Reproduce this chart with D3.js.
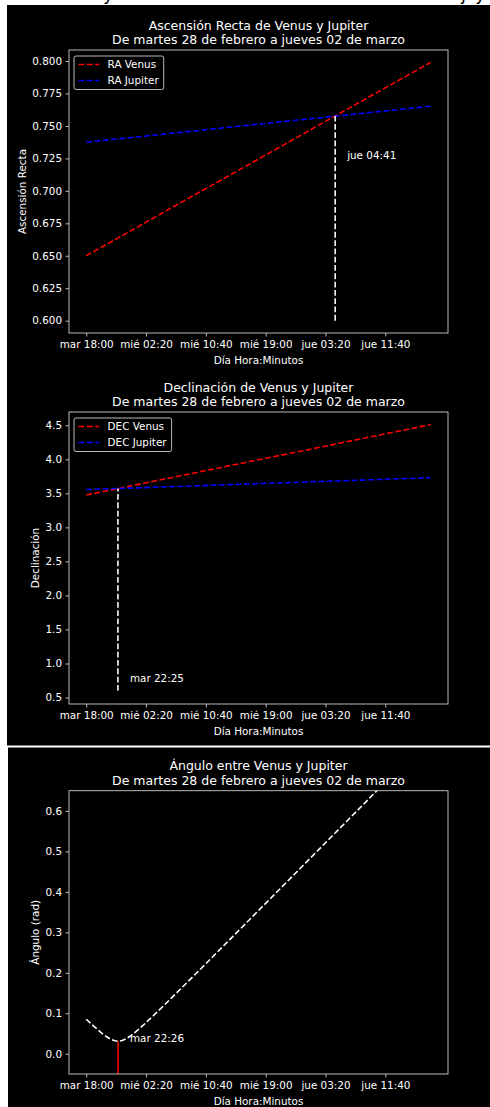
<!DOCTYPE html>
<html lang="es">
<head>
<meta charset="UTF-8">
<title>Venus y Jupiter</title>
<script src="https://d3js.org/d3.v7.min.js"></script>
<style>
  body { margin: 0; background: #fff; }
  svg { display: block; font-family: "DejaVu Sans", sans-serif; }
  .tick text { font-size: 10.4px; fill: #fff; }
  .tick line { stroke: #ccc; stroke-width: 0.9; }
</style>
</head>
<body>
<div id="chart"></div>
<script>
// tiempo en minutos desde mar 28 feb 18:00
const tiempo = [0, 240, 480, 720, 960, 1200, 1440, 1680, 1920, 2160, 2400, 2640, 2880];
const raVenus = [0.6500, 0.6624, 0.6748, 0.6873, 0.6997, 0.7121, 0.7245, 0.7369, 0.7494, 0.7618, 0.7742, 0.7866, 0.7990];
const raJupiter = [0.7375, 0.7398, 0.7421, 0.7444, 0.7467, 0.7490, 0.7514, 0.7537, 0.7560, 0.7583, 0.7606, 0.7629, 0.7652];
const decVenus = [3.475, 3.561, 3.648, 3.734, 3.820, 3.907, 3.993, 4.079, 4.165, 4.252, 4.338, 4.424, 4.510];
const decJupiter = [3.555, 3.570, 3.584, 3.599, 3.613, 3.628, 3.643, 3.657, 3.672, 3.686, 3.701, 3.715, 3.730];

const tiempoAng = [0, 60, 120, 150, 180, 210, 240, 266, 300, 330, 360, 390, 420, 480, 600, 720, 960, 1200, 1440, 1680, 1920, 2160, 2400, 2640, 2880];
const angulo = [0.0854, 0.0689, 0.0535, 0.0465, 0.0402, 0.0351, 0.0319, 0.0310, 0.0327, 0.0366, 0.0420, 0.0486, 0.0558, 0.0715, 0.1051, 0.1399, 0.2107, 0.2821, 0.3538, 0.4255, 0.4974, 0.5692, 0.6411, 0.7131, 0.7850];

const xTicks = [0, 500, 1000, 1500, 2000, 2500];
const xTickLabels = ["mar 18:00", "mié 02:20", "mié 10:40", "mié 19:00", "jue 03:20", "jue 11:40"];

const raTicks = [0.600, 0.625, 0.650, 0.675, 0.700, 0.725, 0.750, 0.775, 0.800];
const decTicks = [0.5, 1.0, 1.5, 2.0, 2.5, 3.0, 3.5, 4.0, 4.5];
const angTicks = [0.0, 0.1, 0.2, 0.3, 0.4, 0.5, 0.6];

// cruces / minimo
const cruceRA = { t: 2081, v: 0.7577, label: "jue 04:41", lt: 2181, lv: 0.7248 };
const cruceDEC = { t: 265, v: 3.570, label: "mar 22:25", lt: 365, lv: 0.73 };
const minAng = { t: 266, v: 0.0310, label: "mar 22:26", lt: 366, lv: 0.0303 };

const subtitulo = "De martes 28 de febrero a jueves 02 de marzo";

const W = 490, H = 1107;
const left = 69, right = 448;

const svg = d3.select("#chart").append("svg")
    .attr("width", W).attr("height", H);

svg.append("rect").attr("width", W).attr("height", H).attr("fill", "#fff");

// restos del encabezado recortado (arriba de la figura)
svg.append("g").attr("font-size", 18).attr("fill", "#000")
    .selectAll("text").data([[103, "y"], [461, "j"], [475, "y"]])
    .join("text").attr("x", d => d[0]).attr("y", 0).text(d => d[1]);

svg.append("rect").attr("x", 7).attr("y", 5).attr("width", W - 7).attr("height", 740.5).attr("fill", "#000");
svg.append("rect").attr("x", 8).attr("y", 747.5).attr("width", W - 8).attr("height", H - 747.5).attr("fill", "#000");

const x = d3.scaleLinear().domain([-144, 3024]).range([left, right]);
const dash = "5.8,2.5";

function panel(cfg, idx) {
    const g = svg.append("g");
    const y = d3.scaleLinear().domain(cfg.yDomain).range([cfg.bottom, cfg.top]);

    const clipId = "clip" + idx;
    g.append("clipPath").attr("id", clipId).append("rect")
        .attr("x", left).attr("y", cfg.top)
        .attr("width", right - left).attr("height", cfg.bottom - cfg.top);

    // titulo
    const tt = g.append("text").attr("x", (left + right) / 2)
        .attr("text-anchor", "middle").attr("fill", "#fff").attr("font-size", 12.5);
    tt.append("tspan").attr("x", (left + right) / 2).attr("y", cfg.top - 20.5).text(cfg.title);
    tt.append("tspan").attr("x", (left + right) / 2).attr("y", cfg.top - 6).text(subtitulo);

    // ejes
    const ax = g.append("g").attr("transform", `translate(0,${cfg.bottom})`)
        .call(d3.axisBottom(x).tickValues(xTicks).tickFormat((d, i) => xTickLabels[i])
            .tickSize(3.5).tickPadding(3.5))
        .attr("font-family", null);
    ax.select(".domain").remove();
    ax.selectAll(".tick text").attr("dy", "0.76em");

    const ay = g.append("g").attr("transform", `translate(${left},0)`)
        .call(d3.axisLeft(y).tickValues(cfg.yTicks).tickFormat(d3.format(cfg.fmt))
            .tickSize(3.5).tickPadding(3.5))
        .attr("font-family", null);
    ay.select(".domain").remove();

    g.append("text").attr("x", (left + right) / 2).attr("y", cfg.bottom + 30.5)
        .attr("text-anchor", "middle").attr("fill", "#fff").attr("font-size", 10.4)
        .text("Día Hora:Minutos");

    g.append("text").attr("transform", `translate(${cfg.ylabelX},${(cfg.top + cfg.bottom) / 2}) rotate(-90)`)
        .attr("text-anchor", "middle").attr("fill", "#fff").attr("font-size", 10.4)
        .text(cfg.ylabel);

    const plot = g.append("g").attr("clip-path", `url(#${clipId})`);
    return { g, y, plot };
}

function serie(p, ts, vs, color, dashed) {
    const line = d3.line().x(d => x(d[0])).y(d => p.y(d[1]));
    p.plot.append("path").datum(ts.map((t, i) => [t, vs[i]]))
        .attr("d", line).attr("fill", "none").attr("stroke", color)
        .attr("stroke-width", 1.56).attr("stroke-dasharray", dashed ? dash : null);
}

function legend(p, top, items) {
    const lg = p.g.append("g");
    const box = lg.append("rect").attr("x", 74).attr("y", top + 6)
        .attr("height", 33.5).attr("rx", 2)
        .attr("fill", "#000").attr("fill-opacity", 0.8)
        .attr("stroke", "#ccc").attr("stroke-width", 0.9);
    let maxW = 0;
    items.forEach((it, i) => {
        const cy = top + 14.5 + i * 16;
        lg.append("line").attr("x1", 78.5).attr("x2", 99.3).attr("y1", cy).attr("y2", cy)
            .attr("stroke", it.color).attr("stroke-width", 1.56).attr("stroke-dasharray", dash);
        const t = lg.append("text").attr("x", 107.6).attr("y", cy + 3.8)
            .attr("fill", "#fff").attr("font-size", 10.4).text(it.name);
        maxW = Math.max(maxW, t.node().getComputedTextLength());
    });
    box.attr("width", 107.6 + maxW + 5 - 74);
}

function vmarca(p, m, y0, color, dashed) {
    p.plot.append("line").attr("x1", x(m.t)).attr("x2", x(m.t))
        .attr("y1", p.y(y0)).attr("y2", p.y(m.v))
        .attr("stroke", color).attr("stroke-width", 1.56)
        .attr("stroke-dasharray", dashed ? dash : null);
    p.g.append("text").attr("x", x(m.lt)).attr("y", p.y(m.lv))
        .attr("fill", "#fff").attr("font-size", 10.4).text(m.label);
}

function marco(p, top, bottom) {
    p.g.append("rect").attr("x", left).attr("y", top)
        .attr("width", right - left).attr("height", bottom - top)
        .attr("fill", "none").attr("stroke", "#ccc").attr("stroke-width", 0.9);
}

// Panel 1: Ascension recta
const p1cfg = { top: 50, bottom: 333, yDomain: [0.5905, 0.8085], yTicks: raTicks, fmt: ".3f",
    title: "Ascensión Recta de Venus y Jupiter", ylabel: "Ascensión Recta", ylabelX: 25.5 };
const p1 = panel(p1cfg, 1);
serie(p1, tiempo, raVenus, "#ff0000", true);
serie(p1, tiempo, raJupiter, "#0000ff", true);
vmarca(p1, cruceRA, 0.600, "#fff", true);
marco(p1, p1cfg.top, p1cfg.bottom);
legend(p1, p1cfg.top, [{ name: "RA Venus", color: "#ff0000" }, { name: "RA Jupiter", color: "#0000ff" }]);

// Panel 2: Declinacion
const p2cfg = { top: 412, bottom: 704, yDomain: [0.405, 4.695], yTicks: decTicks, fmt: ".1f",
    title: "Declinación de Venus y Jupiter", ylabel: "Declinación", ylabelX: 38.8 };
const p2 = panel(p2cfg, 2);
serie(p2, tiempo, decVenus, "#ff0000", true);
serie(p2, tiempo, decJupiter, "#0000ff", true);
vmarca(p2, cruceDEC, 0.6, "#fff", true);
marco(p2, p2cfg.top, p2cfg.bottom);
legend(p2, p2cfg.top, [{ name: "DEC Venus", color: "#ff0000" }, { name: "DEC Jupiter", color: "#0000ff" }]);

// Panel 3: Angulo
const p3cfg = { top: 790.7, bottom: 1074, yDomain: [-0.05, 0.65], yTicks: angTicks, fmt: ".1f",
    title: "Ángulo entre Venus y Jupiter", ylabel: "Ángulo (rad)", ylabelX: 38.8 };
const p3 = panel(p3cfg, 3);
serie(p3, tiempoAng, angulo, "#fff", true);
vmarca(p3, minAng, -0.1, "#ff0000", false);
marco(p3, p3cfg.top, p3cfg.bottom);
</script>
</body>
</html>
